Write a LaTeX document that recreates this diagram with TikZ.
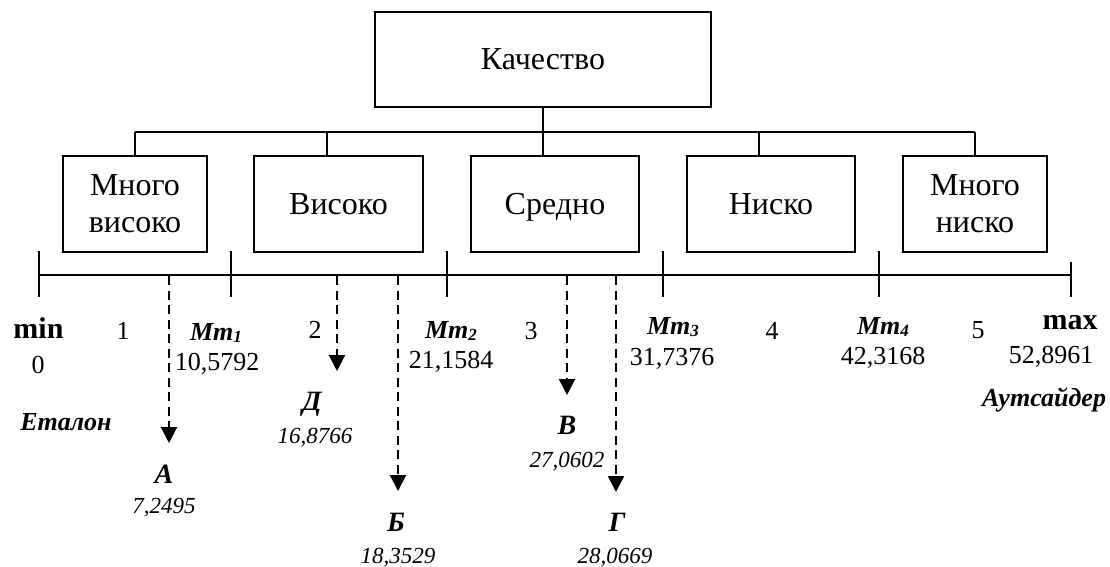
\documentclass[tikz,border=0pt]{standalone}
\usepackage{fontspec}
\setmainfont{Liberation Serif}
\usetikzlibrary{arrows.meta}
\begin{document}
\begin{tikzpicture}[x=1pt,y=-1pt,
  box/.style={draw, line width=1.8pt, inner sep=0pt, align=center, font=\fontsize{32}{37}\selectfont},
  onebox/.style={box, text height=21pt, text depth=0pt},
  lbl/.style={anchor=base, inner sep=0pt},
  num/.style={lbl, font=\fontsize{26}{30}\selectfont},
  bnd/.style={lbl, font=\fontsize{30}{34}\selectfont\bfseries},
  mm/.style={lbl, font=\fontsize{26}{30}\selectfont\bfseries\itshape},
  letter/.style={lbl, font=\fontsize{28}{32}\selectfont\bfseries\itshape},
  inum/.style={lbl, font=\fontsize{23}{27}\selectfont\itshape},
  conn/.style={line width=1.8pt},
  darrow/.style={line width=2.1pt, dash pattern=on 9pt off 5.5pt, -{Triangle[width=16pt,length=16pt]}}
]
\useasboundingbox (0,0) rectangle (1110,567);
\fill[white] (0,0) rectangle (1110,567);

% boxes
\node[onebox, minimum width=336pt, minimum height=95pt] (q) at (543,59.5) {Качество};
\node[box, minimum width=144pt, minimum height=96pt] (b1) at (135,204) {Много\\високо};
\node[onebox, minimum width=169pt, minimum height=96pt] (b2) at (338.5,204) {Високо};
\node[onebox, minimum width=168pt, minimum height=96pt] (b3) at (555,204) {Средно};
\node[onebox, minimum width=168pt, minimum height=96pt] (b4) at (771,204) {Ниско};
\node[box, minimum width=144pt, minimum height=96pt] (b5) at (975,204) {Много\\ниско};

% tree connectors
\coordinate (h0) at (543,132);
\coordinate (h1) at (135,132);
\coordinate (h2) at (327,132);
\coordinate (h4) at (759,132);
\coordinate (h5) at (975,132);
\draw[conn] (q.south) -- (h0);
\draw[conn] (h1) -- (h5);
\draw[conn] (h1) -- (h1 |- b1.north);
\draw[conn] (h2) -- (h2 |- b2.north);
\draw[conn] (h0) -- (h0 |- b3.north);
\draw[conn] (h4) -- (h4 |- b4.north);
\draw[conn] (h5) -- (h5 |- b5.north);

% timeline
\coordinate (t0) at (39,275);
\coordinate (t1) at (231,275);
\coordinate (t2) at (447,275);
\coordinate (t3) at (663,275);
\coordinate (t4) at (879,275);
\coordinate (t5) at (1071,275);
\draw[conn] (t0) -- (t5);
\foreach \t in {t0,t1,t2,t3,t4} {
  \draw[conn] ([yshift=-22pt]\t) -- ([yshift=24pt]\t);
}
\draw[conn] ([yshift=-22pt]t5) -- ([yshift=13pt]t5);

% scale labels
\node[bnd] (lmin) at (38.5,338) {min};
\node[num] (l0) at (38,373) {0};
\node[num] (n1) at (123,339) {1};
\node[num] (n2) at (315,338) {2};
\node[num] (n3) at (531,339) {3};
\node[num] (n4) at (772,339) {4};
\node[num] (n5) at (978,338) {5};
\node[mm] (m1) at (216,340) {Mm\raisebox{-2pt}{\fontsize{17}{17}\selectfont 1}};
\node[num] (v1) at (217,370) {10,5792};
\node[mm] (m2) at (451,338) {Mm\raisebox{-2pt}{\fontsize{17}{17}\selectfont 2}};
\node[num] (v2) at (451,368) {21,1584};
\node[mm] (m3) at (673,334) {Mm\raisebox{-2pt}{\fontsize{17}{17}\selectfont 3}};
\node[num] (v3) at (672,365) {31,7376};
\node[mm] (m4) at (883,334) {Mm\raisebox{-2pt}{\fontsize{17}{17}\selectfont 4}};
\node[num] (v4) at (883,364) {42,3168};
\node[bnd] (lmax) at (1070,329) {max};
\node[num] (vmax) at (1051,363) {52,8961};
\node[mm] (et) at (66,430) {Еталон};
\node[mm] (out) at (1044,406) {Аутсайдер};

% objects
\coordinate (aA) at (169,276); \coordinate (aAt) at (169,443);
\coordinate (aD) at (337,276); \coordinate (aDt) at (337,371);
\coordinate (aB) at (398,276); \coordinate (aBt) at (398,491);
\coordinate (aV) at (567,276); \coordinate (aVt) at (567,395);
\coordinate (aG) at (616,276); \coordinate (aGt) at (616,492);
\draw[darrow] (aA) -- (aAt);
\draw[darrow] (aD) -- (aDt);
\draw[darrow] (aB) -- (aBt);
\draw[darrow] (aV) -- (aVt);
\draw[darrow] (aG) -- (aGt);

\node[letter] (oA) at (164,483) {А};
\node[inum] (vA) at (164,513) {7,2495};
\node[letter] (oD) at (312,410) {Д};
\node[inum] (vD) at (315,443) {16,8766};
\node[letter] (oB) at (396,531) {Б};
\node[inum] (vB) at (398,563) {18,3529};
\node[letter] (oV) at (567,434) {В};
\node[inum] (vV) at (567,467) {27,0602};
\node[letter] (oG) at (617,531) {Г};
\node[inum] (vG) at (615,563) {28,0669};
\end{tikzpicture}
\end{document}
